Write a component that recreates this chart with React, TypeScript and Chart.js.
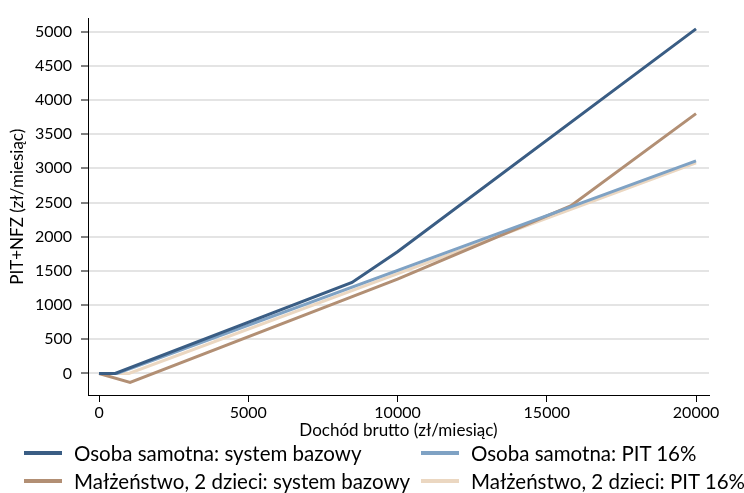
import React, { useEffect, useRef } from 'react';
import { Chart, registerables } from 'chart.js';
Chart.register(...registerables);

// Axis ticks
const xTicks = [0, 5000, 10000, 15000, 20000];
const yTicks = [0, 500, 1000, 1500, 2000, 2500, 3000, 3500, 4000, 4500, 5000];

// Osoba samotna: system bazowy
const singleBaseX = [0, 540, 8475, 10000, 20000];
const singleBaseY = [0, 0, 1330, 1780, 5040];
// Osoba samotna: PIT 16%
const singlePitX = [0, 600, 20000];
const singlePitY = [0, 0, 3110];
// Małżeństwo, 2 dzieci: system bazowy
const marriedBaseX = [0, 1040, 10000, 15800, 20000];
const marriedBaseY = [0, -130, 1380, 2450, 3800];
// Małżeństwo, 2 dzieci: PIT 16%
const marriedPitX = [0, 1000, 20000];
const marriedPitY = [0, 0, 3080];

const seriesNames = [
  'Osoba samotna: system bazowy',
  'Osoba samotna: PIT 16%',
  'Małżeństwo, 2 dzieci: system bazowy',
  'Małżeństwo, 2 dzieci: PIT 16%',
];
const seriesColors = ['#3A5D84', '#7FA2C4', '#B28F74', '#EBD7C1'];
const seriesX = [singleBaseX, singlePitX, marriedBaseX, marriedPitX];
const seriesY = [singleBaseY, singlePitY, marriedBaseY, marriedPitY];

const FONT = "Lato, 'Open Sans', 'DejaVu Sans', sans-serif";

export default function App() {
  const ref = useRef<HTMLCanvasElement>(null);
  useEffect(() => {
    document.body.style.margin = '0';
    const chart = new Chart(ref.current as HTMLCanvasElement, {
      type: 'line',
      data: {
        datasets: seriesNames.map((name, i) => ({
          label: name,
          data: seriesX[i].map((x, j) => ({ x, y: seriesY[i][j] })),
          borderColor: seriesColors[i],
          backgroundColor: seriesColors[i],
          borderWidth: 3,
          pointRadius: 0,
          tension: 0,
          fill: false,
        })),
      },
      options: {
        animation: false,
        responsive: false,
        layout: { padding: { top: 10, right: 35, left: 0, bottom: 0 } },
        plugins: { legend: { display: false }, tooltip: { enabled: false } },
        scales: {
          x: {
            type: 'linear',
            min: -370,
            max: 20435,
            afterBuildTicks: (s: any) => {
              s.ticks = xTicks.map((v) => ({ value: v }));
            },
            afterFit: (s: any) => {
              s.height = 47;
            },
            grid: { drawOnChartArea: false, drawTicks: true, tickLength: 7, tickColor: '#000', tickWidth: 1 },
            border: { display: true, color: '#000', width: 1 },
            ticks: {
              font: { family: FONT, size: 16 },
              color: '#000',
              padding: 1,
              maxRotation: 0,
              autoSkip: false,
              callback: (v: any) => String(v),
            },
            title: {
              display: true,
              text: 'Dochód brutto (zł/miesiąc)',
              font: { family: FONT, size: 17 },
              color: '#000',
              padding: { top: 0, bottom: 1 },
            },
          },
          y: {
            type: 'linear',
            min: -315,
            max: 5190,
            afterBuildTicks: (s: any) => {
              s.ticks = yTicks.map((v) => ({ value: v }));
            },
            afterFit: (s: any) => {
              s.width = 88;
            },
            grid: { color: '#e4e4e4', lineWidth: 2, drawTicks: true, tickLength: 7, tickColor: '#000', tickWidth: 1 },
            border: { display: true, color: '#000', width: 1 },
            ticks: {
              font: { family: FONT, size: 16 },
              color: '#000',
              padding: 9,
              autoSkip: false,
              callback: (v: any) => String(v),
            },
            title: {
              display: true,
              text: 'PIT+NFZ (zł/miesiąc)',
              font: { family: FONT, size: 17 },
              color: '#000',
              padding: { top: 7, bottom: 0 },
            },
          },
        },
      },
    });
    return () => chart.destroy();
  }, []);

  const colLeft = [24, 421];
  const textLeft = [74, 471];
  const rowY = [453, 481];

  return (
    <div style={{ position: 'relative', width: 744, height: 493, background: '#fff', overflow: 'hidden' }}>
      <canvas ref={ref} width={744} height={442} style={{ position: 'absolute', left: 0, top: 0, width: 744, height: 442 }} />
      {seriesNames.map((name, i) => {
        const col = i % 2;
        const row = Math.floor(i / 2);
        return (
          <React.Fragment key={name}>
            <div
              style={{
                position: 'absolute',
                left: colLeft[col],
                top: rowY[row] - 2,
                width: 38,
                height: 4,
                background: seriesColors[i],
              }}
            />
            <div
              style={{
                position: 'absolute',
                left: textLeft[col],
                top: rowY[row] - 12,
                height: 24,
                lineHeight: '24px',
                fontFamily: FONT,
                fontSize: 20.5,
                color: '#000',
                whiteSpace: 'nowrap',
              }}
            >
              {name}
            </div>
          </React.Fragment>
        );
      })}
    </div>
  );
}
